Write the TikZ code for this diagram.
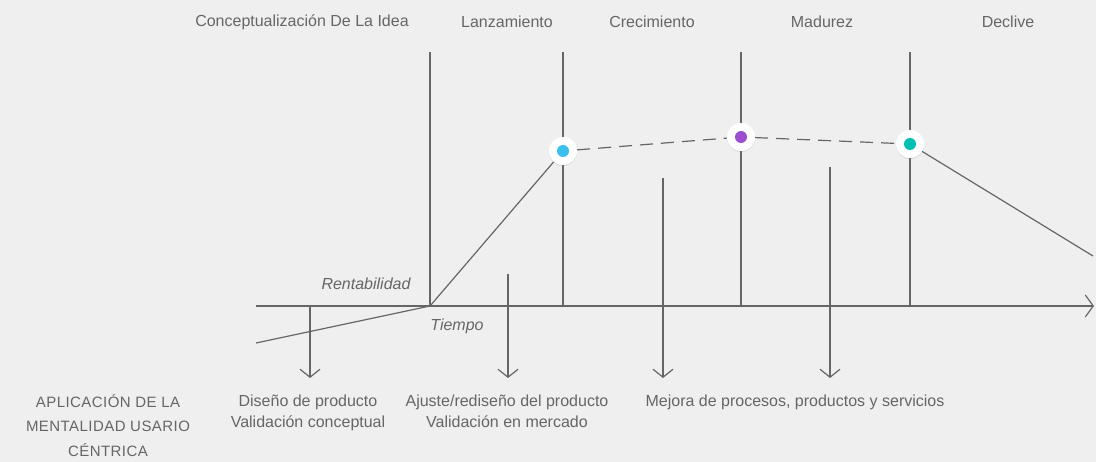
\documentclass[tikz,border=0pt]{standalone}
\usepackage{fontspec}
\setmainfont{Liberation Sans}
\usetikzlibrary{arrows.meta,shadows}
\definecolor{bg}{HTML}{EFEFEF}
\definecolor{ln}{HTML}{666666}
\definecolor{tx}{HTML}{666666}
\definecolor{cblue}{HTML}{3BBFEF}
\definecolor{cpurple}{HTML}{9B4FD0}
\definecolor{cteal}{HTML}{00BFB5}
\tikzset{
  lbl/.style={text=tx, font=\fontsize{16}{21}\selectfont, inner sep=0pt, align=center},
  ital/.style={lbl, font=\fontsize{16}{21}\selectfont\itshape},
  ln/.style={draw=ln, line width=1.2pt},
  downarrow/.style={ln, -{Straight Barb[length=8pt,width=20pt,line width=1.2pt]}},
  ring/.style={circle, fill=white, minimum size=28pt, inner sep=0pt, drop shadow={opacity=0.12, shadow xshift=0pt, shadow yshift=-1pt}},
  dotc/.style={circle, minimum size=12pt, inner sep=0pt}
}
\begin{document}
\begin{tikzpicture}[x=1pt,y=-1pt]
\fill[bg] (0,0) rectangle (1096,462);
\useasboundingbox (0,0) rectangle (1096,462);
% top labels
\node[lbl] (t1) at (302,22) {Conceptualización De La Idea};
\node[lbl] (t2) at (507,22) {Lanzamiento};
\node[lbl] (t3) at (652,22) {Crecimiento};
\node[lbl] (t4) at (822,22) {Madurez};
\node[lbl] (t5) at (1008,22) {Declive};
% coordinates
\coordinate (ax0) at (256,306);
\coordinate (ax1) at (1094,306);
\coordinate (v1t) at (430,52); \coordinate (v1b) at (430,306);
\coordinate (v2t) at (563,52); \coordinate (v2b) at (563,306);
\coordinate (v3t) at (741,52); \coordinate (v3b) at (741,306);
\coordinate (v4t) at (910,52); \coordinate (v4b) at (910,306);
\coordinate (c0) at (256,343);
\coordinate (cend) at (1093,256);
% verticals
\draw[ln] (v1t) -- (v1b);
\draw[ln] (v2t) -- (v2b);
\draw[ln] (v3t) -- (v3b);
\draw[ln] (v4t) -- (v4b);
% axis
\draw[ln, -{Straight Barb[length=8pt,width=22pt,line width=1.2pt]}] (ax0) -- (ax1);
% down arrows
\coordinate (a1t) at (310,306); \coordinate (a1b) at (310,378);
\coordinate (a2t) at (508,274); \coordinate (a2b) at (508,378);
\coordinate (a3t) at (663,178); \coordinate (a3b) at (663,378);
\coordinate (a4t) at (830,167); \coordinate (a4b) at (830,378);
\draw[downarrow] (a1t) -- (a1b);
\draw[downarrow] (a2t) -- (a2b);
\draw[downarrow] (a3t) -- (a3b);
\draw[downarrow] (a4t) -- (a4b);
% curve
\node[ring] (p1) at (563,151) {};
\node[ring] (p2) at (741,137) {};
\node[ring] (p3) at (910,144) {};
\draw[ln] (c0) -- (v1b) -- (p1);
\draw[ln, dash pattern=on 13pt off 8pt] (p1) -- (p2);
\draw[ln, dash pattern=on 13pt off 8pt] (p2) -- (p3);
\draw[ln] (p3) -- (cend);
\node[ring] at (p1) {};
\node[ring] at (p2) {};
\node[ring] at (p3) {};
\node[dotc, fill=cblue] (d1) at (p1) {};
\node[dotc, fill=cpurple] (d2) at (p2) {};
\node[dotc, fill=cteal] (d3) at (p3) {};
% axis labels
\node[ital] (rent) at (366,284) {Rentabilidad};
\node[ital] (tiem) at (457,326) {Tiempo};
% bottom labels
\node[lbl, anchor=north] (b1) at (308,395) {Diseño de producto\\Validación conceptual};
\node[lbl, anchor=north] (b2) at (507,395) {Ajuste/rediseño del producto\\Validación en mercado};
\node[lbl, anchor=north] (b3) at (795,395) {Mejora de procesos, productos y servicios};
\node[lbl, anchor=north, font=\fontsize{15}{24.5}\selectfont\addfontfeatures{LetterSpace=3}] (left) at (108,394) {APLICACIÓN DE LA\\MENTALIDAD USARIO\\CÉNTRICA};
\end{tikzpicture}
\end{document}
